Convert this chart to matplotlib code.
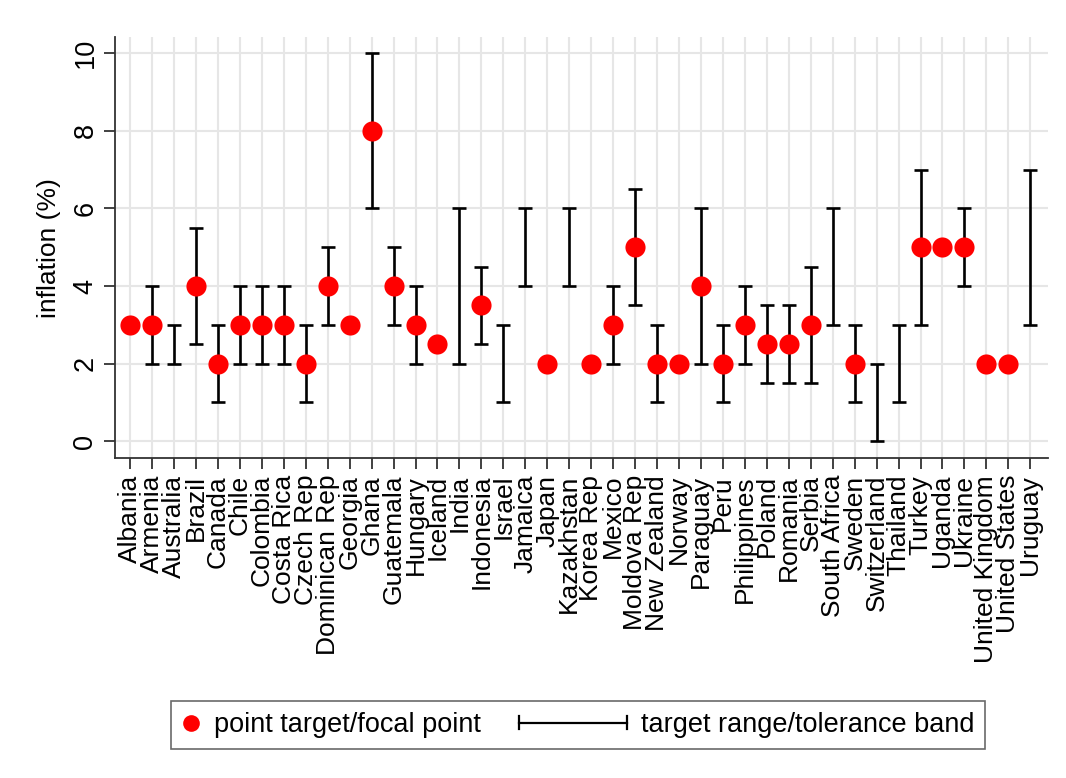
import numpy as np
import matplotlib
matplotlib.use("Agg")
import matplotlib.pyplot as plt
from matplotlib.lines import Line2D
from matplotlib.legend_handler import HandlerBase

plt.rcParams['font.family'] = ['Liberation Sans', 'DejaVu Sans']

# data (nan = not present)
countries = ["Albania", "Armenia", "Australia", "Brazil", "Canada", "Chile", "Colombia",
             "Costa Rica", "Czech Rep", "Dominican Rep", "Georgia", "Ghana", "Guatemala",
             "Hungary", "Iceland", "India", "Indonesia", "Israel", "Jamaica", "Japan",
             "Kazakhstan", "Korea Rep", "Mexico", "Moldova Rep", "New Zealand", "Norway",
             "Paraguay", "Peru", "Philippines", "Poland", "Romania", "Serbia", "South Africa",
             "Sweden", "Switzerland", "Thailand", "Turkey", "Uganda", "Ukraine",
             "United Kingdom", "United States", "Uruguay"]
nan = np.nan
point_target = [3, 3, nan, 4, 2, 3, 3, 3, 2, 4, 3, 8, 4, 3, 2.5, nan, 3.5, nan, nan, 2,
                nan, 2, 3, 5, 2, 2, 4, 2, 3, 2.5, 2.5, 3, nan, 2, nan, nan, 5, 5, 5, 2, 2, nan]
range_low = [nan, 2, 2, 2.5, 1, 2, 2, 2, 1, 3, nan, 6, 3, 2, nan, 2, 2.5, 1, 4, nan,
             4, nan, 2, 3.5, 1, nan, 2, 1, 2, 1.5, 1.5, 1.5, 3, 1, 0, 1, 3, nan, 4, nan, nan, 3]
range_high = [nan, 4, 3, 5.5, 3, 4, 4, 4, 3, 5, nan, 10, 5, 4, nan, 6, 4.5, 3, 6, nan,
              6, nan, 4, 6.5, 3, nan, 6, 3, 4, 3.5, 3.5, 4.5, 6, 3, 2, 3, 7, nan, 6, nan, nan, 7]

x = np.arange(len(countries))
pt = np.array(point_target, dtype=float)
lo = np.array(range_low, dtype=float)
hi = np.array(range_high, dtype=float)
has_rng = ~np.isnan(lo)
mid = (lo + hi) / 2


class RangeHandler(HandlerBase):
    # horizontal bar with end caps, reaching left past the small handle box
    def create_artists(self, legend, orig_handle, xdescent, ydescent, width, height, fontsize, trans):
        y = height / 2 - ydescent
        x1 = width - xdescent
        x0 = x1 - 4.0 * fontsize
        c = 0.25 * fontsize
        arts = [Line2D([x0, x1], [y, y], color="black", lw=1.6),
                Line2D([x0, x0], [y - c, y + c], color="black", lw=1.6),
                Line2D([x1, x1], [y - c, y + c], color="black", lw=1.6)]
        for a in arts:
            a.set_transform(trans)
        return arts


fig = plt.figure(figsize=(10.66, 7.78), dpi=100)
ax = fig.add_axes([0.108, 0.411, 0.875, 0.541])

ax.errorbar(x[has_rng], mid[has_rng], yerr=(hi[has_rng] - lo[has_rng]) / 2, fmt="none",
            ecolor="black", elinewidth=1.9, capsize=5, capthick=1.9, zorder=3)
ax.plot(x, pt, linestyle="none", marker="o", markersize=14.5, color="#ff0000",
        markeredgewidth=0, zorder=4)

ax.set_xlim(-0.68, 41.8)
ax.set_ylim(-0.44, 10.41)
ax.set_xticks(x)
ax.set_xticklabels(countries, rotation=90, fontsize=19, va="top", ha="center")
ax.set_yticks([0, 2, 4, 6, 8, 10])
ax.set_yticklabels(["0", "2", "4", "6", "8", "10"], rotation=90, va="center", fontsize=19.5)
ax.set_ylabel("inflation (%)", fontsize=19, labelpad=8)

ax.grid(True, color="#e6e6e6", linewidth=1.5)
ax.set_axisbelow(True)
for s in ["top", "right"]:
    ax.spines[s].set_visible(False)
for s in ["left", "bottom"]:
    ax.spines[s].set_color("#333333")
    ax.spines[s].set_linewidth(1.3)
ax.tick_params(axis="both", direction="out", length=8, width=1.3, color="#333333", pad=4)

dot = Line2D([], [], linestyle="none", marker="o", markersize=12, color="#ff0000", markeredgewidth=0)
band = Line2D([], [], color="black")
leg = fig.legend([dot, band], ["point target/focal point", "target range/tolerance band"],
                 handler_map={band: RangeHandler()}, loc="center", bbox_to_anchor=(0.542, 0.068),
                 ncol=2, fontsize=19.5, frameon=True, fancybox=False, handlelength=0.7,
                 handletextpad=0.5, columnspacing=4.7, borderpad=0.4, borderaxespad=0)
leg.get_frame().set_edgecolor("#444444")
leg.get_frame().set_linewidth(1.2)

fig.savefig("out.png", dpi=100, facecolor="white")
